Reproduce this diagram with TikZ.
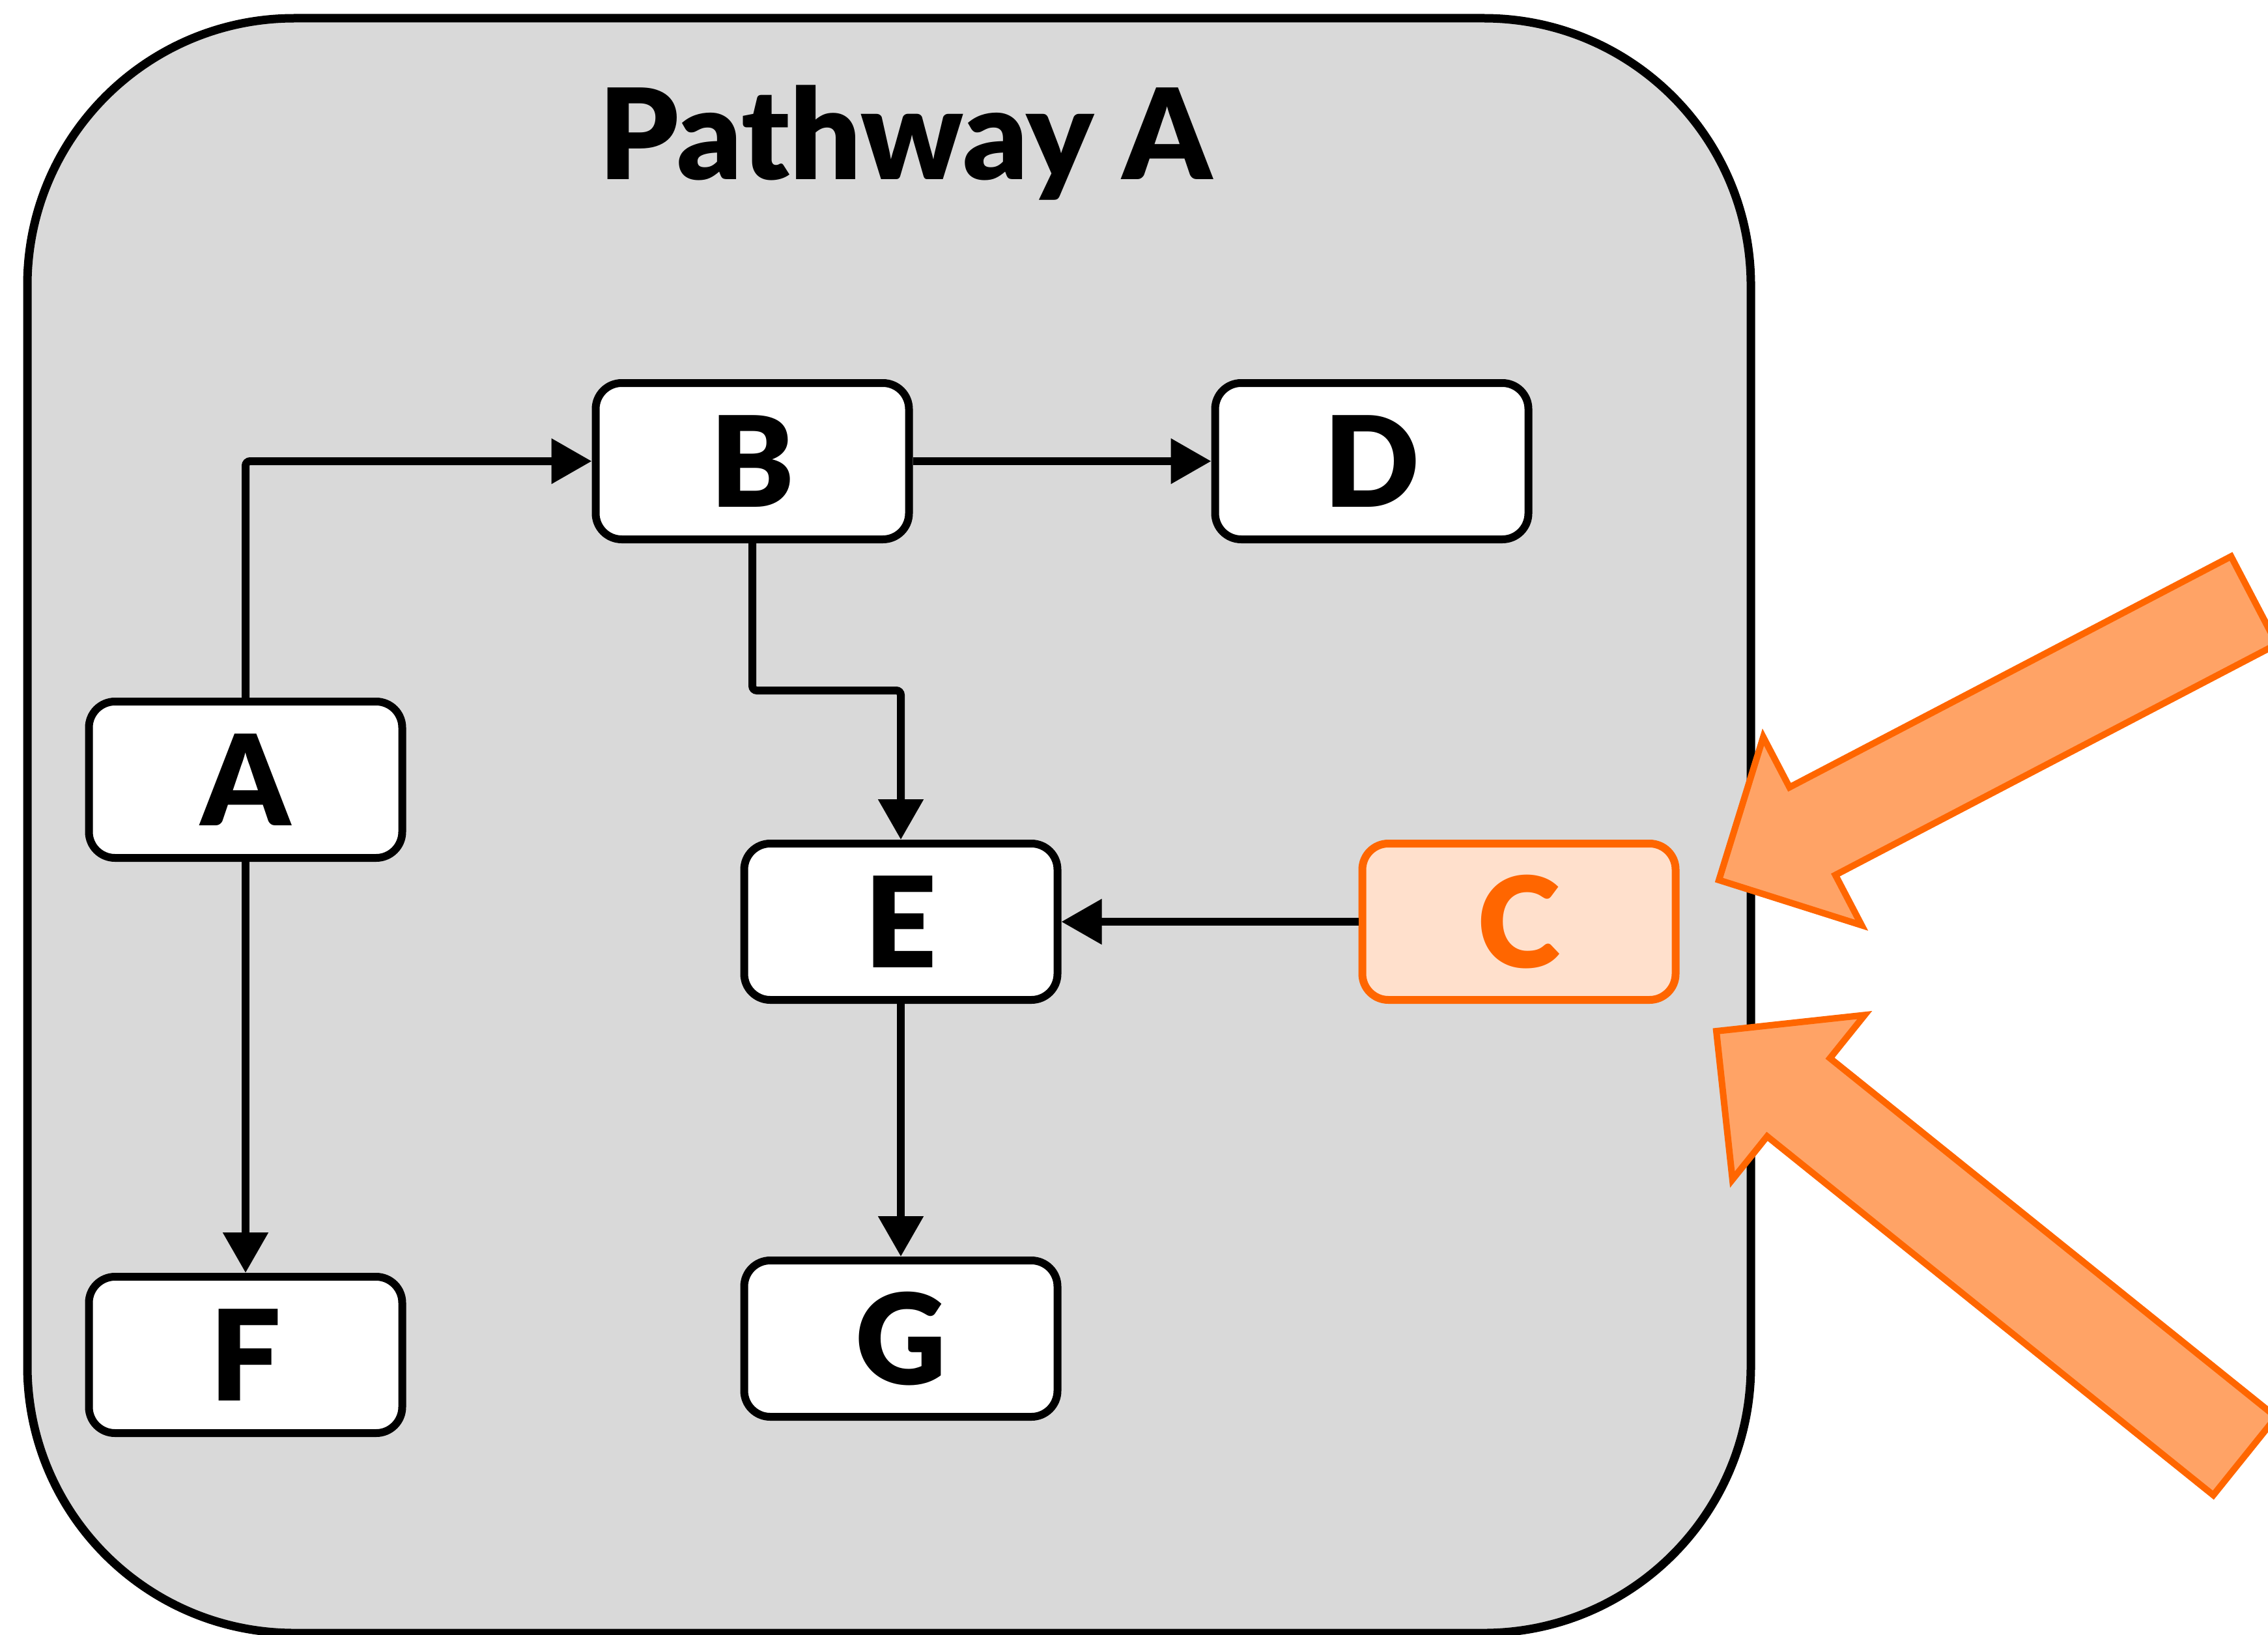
\documentclass[tikz,border=0pt]{standalone}
\usepackage{fontspec}
\setmainfont{Lato}[BoldFont={Lato Black}]
\usepackage{xcolor}
\usetikzlibrary{arrows.meta}
\definecolor{panelgray}{HTML}{D9D9D9}
\definecolor{hlorange}{HTML}{FF6600}
\definecolor{hlfill}{HTML}{FFE0CC}
\definecolor{blockfill}{HTML}{FFA366}

\begin{document}
\begin{tikzpicture}[
  panel/.style={
    draw, line width=0.13cm, fill=panelgray, rounded corners=4.1cm
  },
  gene/.style={
    draw, line width=0.12cm, fill=white, rectangle, rounded corners=0.4cm,
    minimum width=4.81cm, minimum height=2.40cm,
    font=\fontsize{55}{60}\selectfont\bfseries, inner sep=0pt
  },
  hit/.style={
    gene, draw=hlorange, fill=hlfill, text=hlorange
  },
  arr/.style={-{Triangle[length=0.62cm,width=0.67cm]}, line width=0.12cm},
  block/.style={
    draw=hlorange, fill=blockfill, line width=0.1cm, line join=miter
  },
]
\useasboundingbox (0,0) rectangle (34.82,-25.09);

\draw[panel] (0.42,-0.28) rectangle (26.88,-25.07);
\node[font=\fontsize{55}{60}\selectfont\bfseries, anchor=base] (title) at (13.90,-2.76) {Pathway A};

\node[gene] (A) at (3.77,-11.97) {A};
\node[gene] (B) at (11.55,-7.08) {B};
\node[gene] (D) at (21.06,-7.08) {D};
\node[gene] (E) at (13.83,-14.15) {E};
\node[hit]  (C) at (23.32,-14.15) {C};
\node[gene] (F) at (3.77,-20.80) {F};
\node[gene] (G) at (13.83,-20.55) {G};

\draw[arr, rounded corners=2pt] (A.north) |- (B.west);
\draw[arr] (B.east) -- (D.west);
\draw[arr, rounded corners=2pt] (B.south) -- ++(0,-2.26) -| (E.north);
\draw[arr] (C.west) -- (E.east);
\draw[arr] (A.south) -- (F.north);
\draw[arr] (E.south) -- (G.north);

\draw[block, shift={(26.39,-13.51)}, rotate=27.6]
  (0,0) -- (1.62,1.63) -- (1.62,0.76) -- (9.27,0.76) -- (9.27,-0.76)
  -- (1.62,-0.76) -- (1.62,-1.63) -- cycle;
\draw[block, shift={(26.35,-15.83)}, rotate=-38.8]
  (0,0) -- (1.62,1.62) -- (1.62,0.77) -- (10.41,0.77) -- (10.41,-0.77)
  -- (1.62,-0.77) -- (1.62,-1.62) -- cycle;

\end{tikzpicture}
\end{document}
